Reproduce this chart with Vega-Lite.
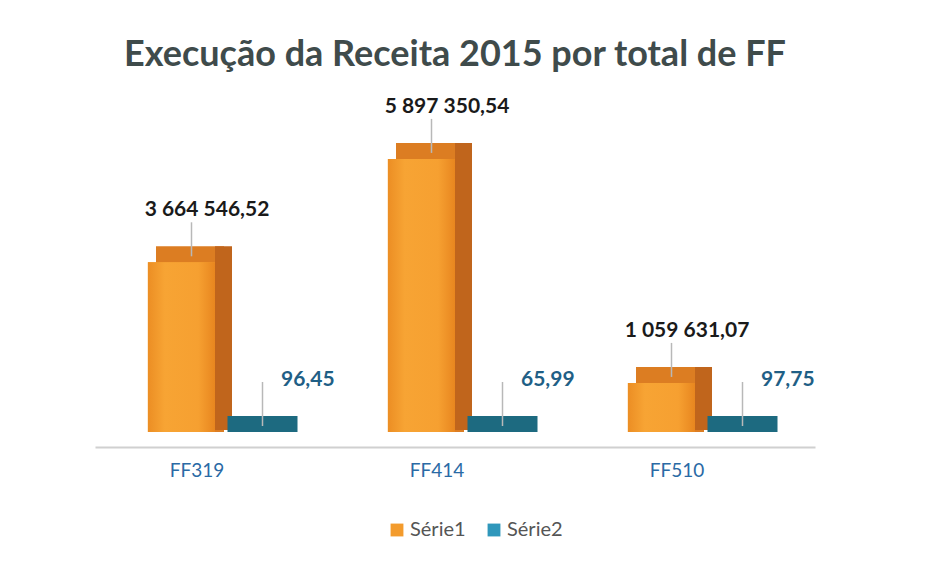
{
  "$schema": "https://vega.github.io/schema/vega-lite/v6.json",
  "width": 720,
  "height": 301,
  "autosize": {"type": "none"},
  "padding": {"left": 95, "right": 110, "top": 131, "bottom": 134},
  "background": "white",
  "config": {
    "view": {"stroke": null},
    "locale": {"number": {"decimal": ",", "thousands": " ", "grouping": [3], "currency": ["", ""]}},
    "font": "Lato"
  },
  "title": {
    "text": "Execução da Receita 2015 por total de FF",
    "font": "Lato",
    "fontSize": 36,
    "fontWeight": "bold",
    "color": "#3f4b4b",
    "anchor": "middle",
    "offset": 22
  },
  "data": {
    "values": [
      {"ff": "FF319", "serie": "Série1", "valor": 3664546.52},
      {"ff": "FF319", "serie": "Série2", "valor": 96.45},
      {"ff": "FF414", "serie": "Série1", "valor": 5897350.54},
      {"ff": "FF414", "serie": "Série2", "valor": 65.99},
      {"ff": "FF510", "serie": "Série1", "valor": 1059631.07},
      {"ff": "FF510", "serie": "Série2", "valor": 97.75}
    ]
  },
  "encoding": {
    "x": {
      "field": "ff",
      "type": "nominal",
      "scale": {"paddingInner": 0.44, "paddingOuter": 0.22},
      "axis": {
        "title": null,
        "labelAngle": 0,
        "ticks": false,
        "offset": 15,
        "domainColor": "#d0d0d0",
        "domainWidth": 2,
        "labelOffset": -18,
        "labelPadding": 14,
        "labelFontSize": 19,
        "labelColor": "#2a6aa5",
        "labelFont": "Lato"
      }
    },
    "y": {"field": "valor", "type": "quantitative", "scale": {"domain": [0, 6500000]}, "axis": null}
  },
  "layer": [
    {
      "transform": [{"filter": "datum.serie === 'Série1'"}],
      "mark": {"type": "bar", "width": 68, "xOffset": -25, "yOffset": -16, "y2Offset": 0, "color": "#dc7d22"},
      "encoding": {"y2": {"datum": 0}}
    },
    {
      "transform": [{"filter": "datum.serie === 'Série1'"}],
      "mark": {"type": "bar", "width": 17, "xOffset": 8.5, "yOffset": -16, "y2Offset": -2, "color": "#c0651c"},
      "encoding": {"y2": {"datum": 0}}
    },
    {
      "transform": [{"filter": "datum.serie === 'Série2'"}],
      "mark": {"type": "bar", "width": 70, "xOffset": 47.5, "yOffset": -16, "y2Offset": 0, "color": "#1d6a80"},
      "encoding": {"y2": {"datum": 0}}
    },
    {
      "mark": {"type": "bar"},
      "encoding": {
        "xOffset": {"field": "serie", "type": "nominal", "scale": {"paddingInner": 0, "paddingOuter": 0}},
        "color": {
          "field": "serie",
          "type": "nominal",
          "scale": {"domain": ["Série1", "Série2"], "range": ["#f39b2c", "#2f97bb"]},
          "legend": {
            "title": null,
            "orient": "none",
            "legendX": 292,
            "legendY": 389,
            "direction": "horizontal",
            "symbolType": "square",
            "symbolSize": 165,
            "symbolStrokeWidth": 0,
            "labelFontSize": 20,
            "labelColor": "#555555",
            "labelFont": "Lato",
            "labelOffset": 3,
            "columnPadding": 18
          }
        }
      }
    },
    {
      "transform": [{"filter": "datum.serie === 'Série1'"}],
      "mark": {
        "type": "bar",
        "width": 67,
        "xOffset": -33.5,
        "color": {
          "gradient": "linear",
          "x1": 0, "y1": 0, "x2": 1, "y2": 0,
          "stops": [
            {"offset": 0, "color": "#ec8e24"},
            {"offset": 0.25, "color": "#f7a434"},
            {"offset": 0.75, "color": "#f6a031"},
            {"offset": 1, "color": "#e8861f"}
          ]
        }
      },
      "encoding": {}
    },
    {
      "transform": [{"filter": "datum.serie === 'Série1'"}],
      "mark": {"type": "rule", "color": "#b8b8b8", "strokeWidth": 1.5, "xOffset": -23.5, "yOffset": -6, "y2Offset": -40},
      "encoding": {"y2": {"field": "valor"}}
    },
    {
      "transform": [{"filter": "datum.serie === 'Série1'"}],
      "mark": {"type": "text", "font": "Lato", "fontWeight": "bold", "fontSize": 21, "color": "#1a1a1a", "dx": -8, "dy": -52, "baseline": "middle"},
      "encoding": {
        "text": {"field": "valor", "type": "quantitative", "format": ",.2f"}
      }
    },
    {
      "transform": [{"filter": "datum.serie === 'Série2'"}],
      "mark": {"type": "rule", "color": "#b8b8b8", "strokeWidth": 1.5, "xOffset": 47.5, "yOffset": -6, "y2Offset": -50},
      "encoding": {"y2": {"field": "valor"}}
    },
    {
      "transform": [{"filter": "datum.serie === 'Série2'"}],
      "mark": {"type": "text", "font": "Lato", "fontWeight": "bold", "fontSize": 21, "color": "#1f5f86", "dx": 66, "dy": -52, "align": "left", "baseline": "middle"},
      "encoding": {
        "text": {"field": "valor", "type": "quantitative", "format": ",.2f"}
      }
    }
  ]
}
